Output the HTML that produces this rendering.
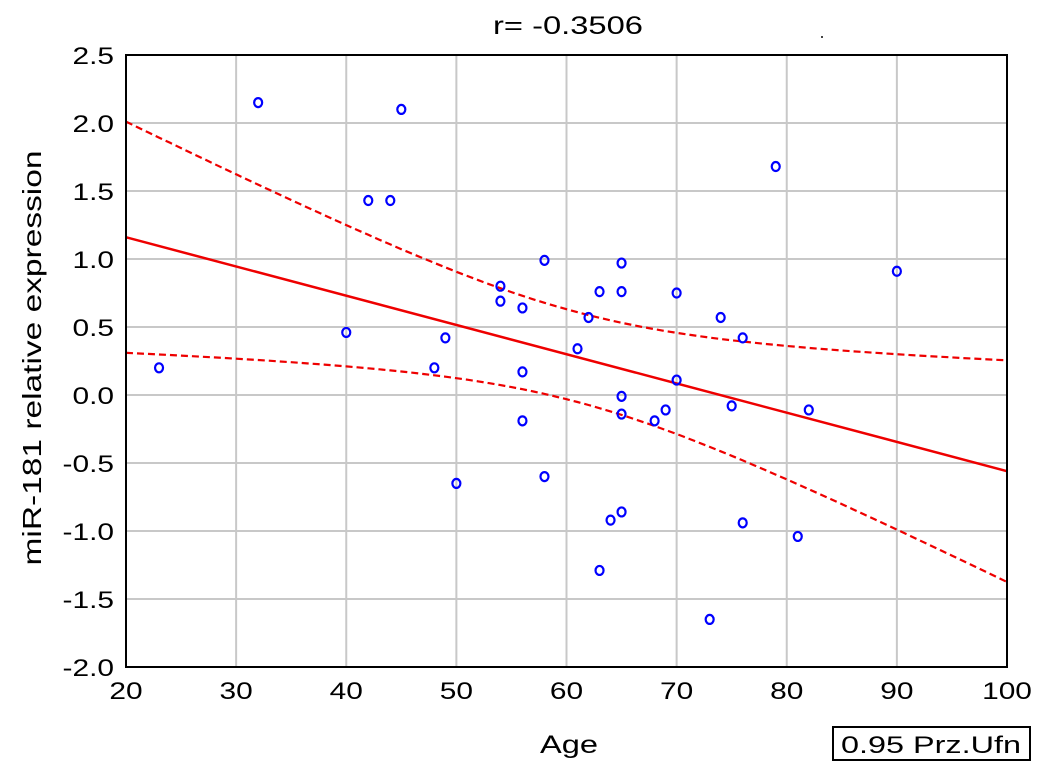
<!DOCTYPE html>
<html><head><meta charset="utf-8"><style>
body{margin:0;background:#fff;}
svg{display:block;font-family:"Liberation Sans",Arial,sans-serif;}
</style></head><body>
<svg id="chart" width="1047" height="773">
<text x="568" y="34" font-size="25" text-anchor="middle" textLength="150" lengthAdjust="spacingAndGlyphs">r= -0.3506</text>
<rect x="821" y="36" width="2" height="2" fill="#444"/>
<g id="grid"></g>
<g id="ticks"></g>
<g id="series"></g>
<rect x="126" y="55" width="881" height="612" fill="none" stroke="#000" stroke-width="2"/>
<text x="569" y="753" font-size="25" text-anchor="middle" textLength="58" lengthAdjust="spacingAndGlyphs">Age</text>
<text transform="translate(41,358) rotate(-90)" font-size="26" text-anchor="middle" textLength="415" lengthAdjust="spacingAndGlyphs">miR-181 relative expression</text>
<rect x="833" y="727" width="197" height="33" fill="#fff" stroke="#000" stroke-width="2"/>
<text x="931" y="753" font-size="24" text-anchor="middle" textLength="180" lengthAdjust="spacingAndGlyphs">0.95 Prz.Ufn</text>
</svg>
<script>
const ages=[23,32,45,42,44,40,49,48,50,54,54,56,56,56,58,58,61,62,63,63,64,65,65,65,65,65,68,69,70,70,73,74,75,76,76,79,81,82,90];
const expr=[0.2,2.15,2.1,1.43,1.43,0.46,0.42,0.2,-0.65,0.8,0.69,0.64,0.17,-0.19,0.99,-0.6,0.34,0.57,0.76,-1.29,-0.92,0.97,0.76,-0.01,-0.14,-0.86,-0.19,-0.11,0.75,0.11,-1.65,0.57,-0.08,0.42,-0.94,1.68,-1.04,-0.11,0.91];
const xTicks=[20,30,40,50,60,70,80,90,100];
const yTicks=[2.5,2.0,1.5,1.0,0.5,0.0,-0.5,-1.0,-1.5,-2.0];
const fitEnds=[1.16,-0.56];
const bandMin=[0.33];
const bandAtEdge=[0.85];
const bandCenter=[61];
const NS="http://www.w3.org/2000/svg";
const X=v=>126+(v-20)*881/80;
const Y=v=>395-v*136;
function mk(t,a,p){const e=document.createElementNS(NS,t);for(const k in a)e.setAttribute(k,a[k]);p.appendChild(e);return e;}
const grid=document.getElementById('grid'),ticks=document.getElementById('ticks'),ser=document.getElementById('series');
xTicks.forEach(t=>{const l=mk('line',{x1:X(t),x2:X(t),y1:55,y2:667,stroke:'#c8c8c8','stroke-width':2},grid);

const tx=mk('text',{transform:'translate('+X(t)+',699) scale(1.3,1.05)','font-size':23,'text-anchor':'middle'},ticks);tx.textContent=t;
});
yTicks.forEach(t=>{const l=mk('line',{x1:126,x2:1007,y1:Y(t),y2:Y(t),stroke:'#c8c8c8','stroke-width':2},grid);

const tx=mk('text',{transform:'translate(114,'+(Y(t)+9)+') scale(1.3,1.05)','font-size':23,'text-anchor':'end'},ticks);tx.textContent=t.toFixed(1);
});
const fit=x=>fitEnds[0]+(fitEnds[1]-fitEnds[0])*(x-20)/80;
const span=Math.max(bandCenter[0]-20,100-bandCenter[0]);
const b=(bandAtEdge[0]**2-bandMin[0]**2)/(span*span);
const half=x=>Math.sqrt(bandMin[0]**2+b*(x-bandCenter[0])**2);
const fl=mk('line',{x1:X(20),y1:Y(fit(20)),x2:X(100),y2:Y(fit(100)),stroke:'#e00','stroke-width':2.5},ser);

[1,-1].forEach(s=>{let d='';for(let x=20;x<=100;x+=1){d+=(x==20?'M':'L')+X(x).toFixed(1)+','+Y(fit(x)+s*half(x)).toFixed(1);}
const p=mk('path',{d:d,fill:'none',stroke:'#e00','stroke-width':2.2,'stroke-dasharray':'7,4'},ser);
});
ages.forEach((a,i)=>{const c=mk('ellipse',{cx:X(a),cy:Y(expr[i]),rx:4,ry:4.5,fill:'none',stroke:'#00f','stroke-width':2.2},ser);
});
</script>
</body></html>
